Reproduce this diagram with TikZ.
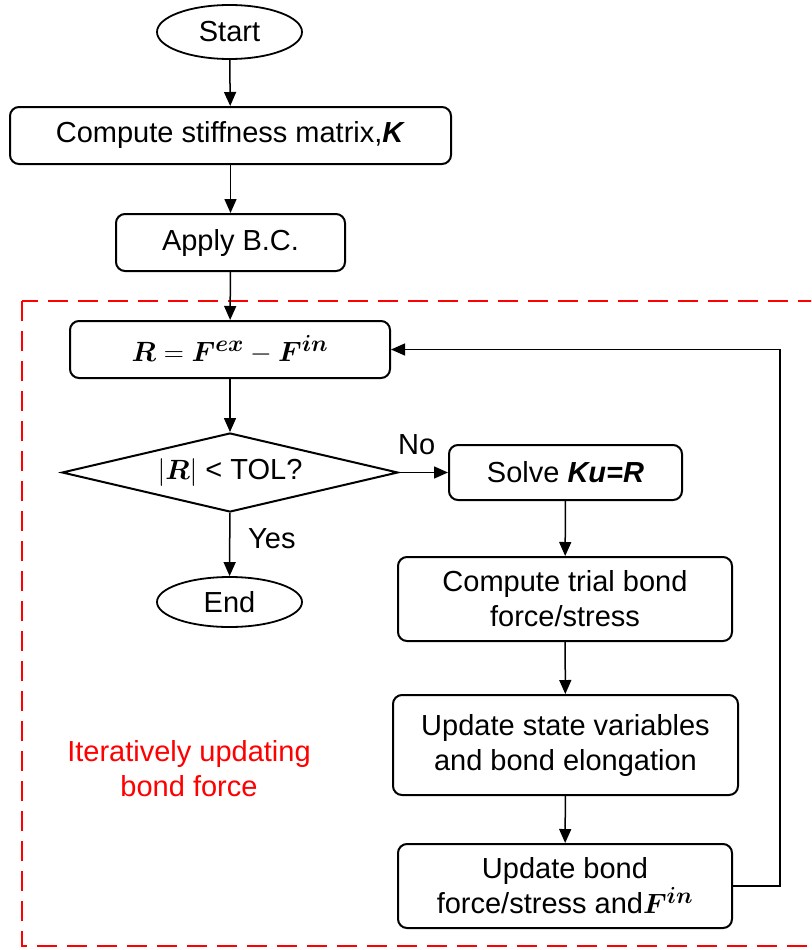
\documentclass[tikz,border=0pt]{standalone}
\usepackage{fontspec}
\setmainfont{Liberation Sans}
\usepackage{amsmath}
\usepackage{bm}
\usetikzlibrary{shapes.geometric,arrows.meta}
\newcommand{\bigmath}[1]{\scalebox{1.12}{#1}}
\begin{document}
\begin{tikzpicture}[x=1pt,y=-1pt,
  every node/.style={font=\fontsize{29}{35}\selectfont, inner sep=0pt, align=center},
  box/.style={draw, line width=2pt, rounded corners=9pt},
  term/.style={draw, line width=1.8pt, ellipse},
  decide/.style={draw, line width=2pt, diamond, shape aspect=4.25},
  arr/.style={line width=1.5pt, -{Triangle[length=14pt,width=12pt]}},
  loopline/.style={line width=1.3pt, -{Triangle[length=14pt,width=12pt]}},
  region/.style={draw=red, line width=2.2pt, dash pattern=on 20pt off 10pt}]
\clip (0,0) rectangle (811,950);
\fill[white] (0,0) rectangle (811,950);

\draw[region] (22,301) rectangle (840,946);

\node[term, minimum width=145pt, minimum height=54pt] (start) at (229.5,32) {Start};
\node[box, minimum width=441pt, minimum height=57pt] (stiff) at (230.5,135.5) {Compute stiffness matrix,\textbf{\textit{K}}};
\node[box, minimum width=229pt, minimum height=57pt] (bc) at (230.5,242.5) {Apply B.C.};
\node[box, minimum width=320pt, minimum height=57pt] (res) at (230,349.5) {\bigmath{$\bm{R}=\bm{F}^{\bm{ex}}-\bm{F}^{\bm{in}}$}};
\node[decide, minimum width=336pt, minimum height=79pt] (chk) at (230,472.5) {\bigmath{$|\bm{R}|$} < TOL?};
\node[term, minimum width=145pt, minimum height=50pt] (end) at (229.5,602) {End};
\node[box, minimum width=233pt, minimum height=55pt] (solve) at (565.5,472.5) {Solve \textbf{\textit{Ku=R}}};
\node[box, minimum width=334pt, minimum height=84pt] (trial) at (565,599) {Compute trial bond\\force/stress};
\node[box, minimum width=345pt, minimum height=100pt] (state) at (565.5,745) {Update state variables\\and bond elongation};
\node[box, minimum width=334pt, minimum height=84pt] (upd) at (565,886) {Update bond\\force/stress and\bigmath{$\bm{F}^{\bm{in}}$}};

\node[text=red] (lbl) at (189,769) {Iteratively updating\\bond force};
\node[anchor=west] (yes) at (248,539) {Yes};
\node[anchor=west] (no) at (398,445) {No};

\coordinate (turn) at (780,886);

\draw[arr] (start) -- (stiff);
\draw[arr] (stiff) -- (bc);
\draw[arr] (bc) -- (res);
\draw[arr] (res) -- (chk);
\draw[arr] (chk) -- (end);
\draw[arr] (chk) -- (solve);
\draw[arr] (solve) -- (trial);
\draw[arr] (trial) -- (state);
\draw[arr] (state) -- (upd);
\draw[loopline] (upd.east) -- (turn) |- (res.east);
\end{tikzpicture}
\end{document}
